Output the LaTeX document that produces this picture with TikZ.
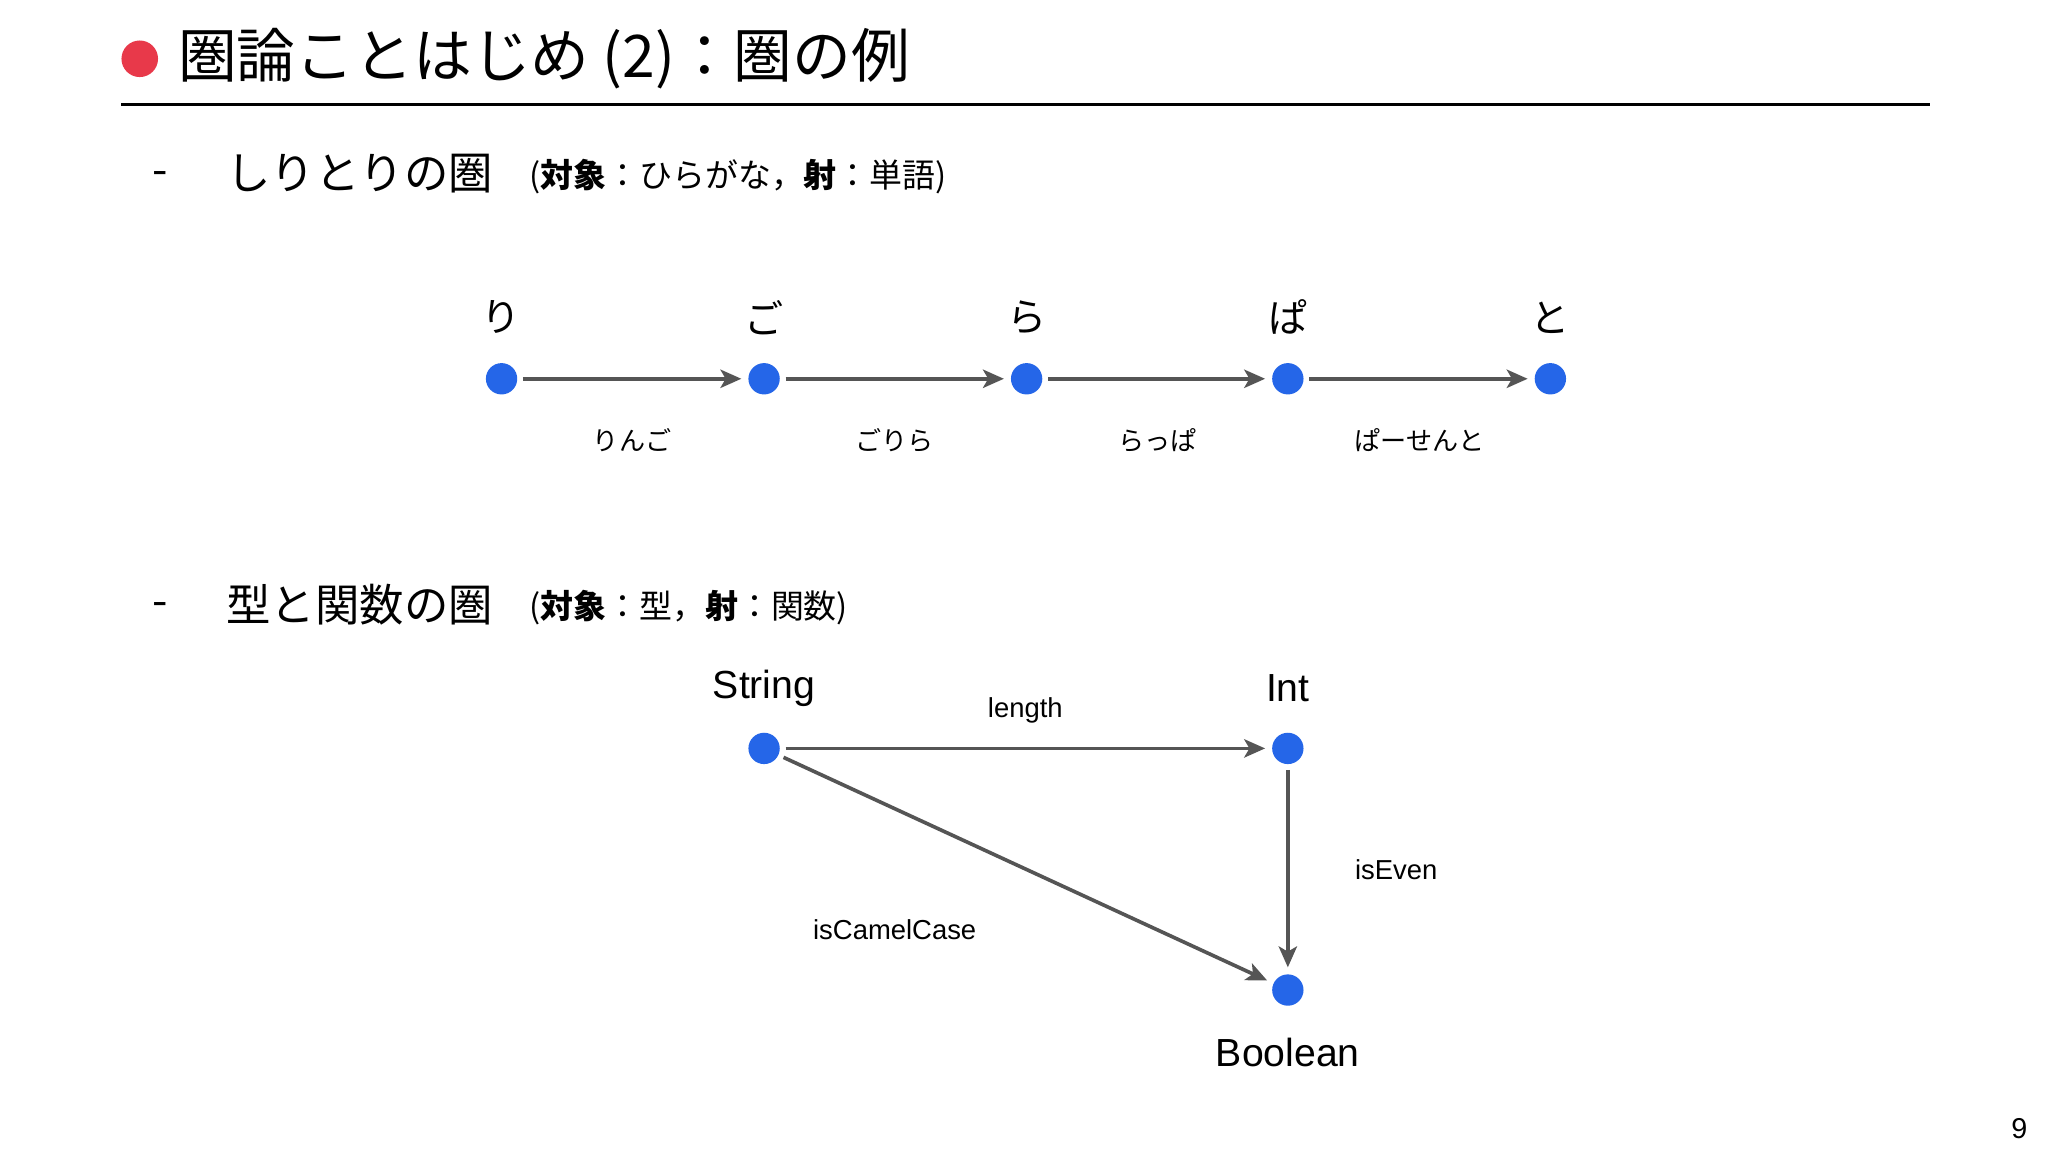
\documentclass[tikz,border=0pt]{standalone}
\usepackage{fontspec}
\setmainfont{Liberation Sans}
\newfontfamily\jp{Noto Sans CJK JP}
\usetikzlibrary{arrows.meta}
\definecolor{dotblue}{HTML}{2566E8}
\definecolor{tred}{HTML}{E8394A}
\definecolor{agray}{HTML}{555555}
\tikzset{
  obj/.style={circle,fill=dotblue,minimum size=12pt,inner sep=0pt},
  arr/.style={draw=agray,line width=1.4pt,-{Stealth[length=8pt,width=7pt,inset=2pt]},shorten <=2pt,shorten >=2.5pt},
  olab/.style={font=\jp\fontsize{15}{18}\selectfont},
  alab/.style={font=\jp\fontsize{10}{12}\selectfont},
  tlab/.style={font=\fontsize{15}{18}\selectfont},
  flab/.style={font=\fontsize{10.5}{12}\selectfont},
  head/.style={anchor=west,font=\jp\fontsize{17}{20}\selectfont,inner sep=0pt},
  sub/.style={anchor=west,font=\jp\fontsize{12.6}{14}\selectfont,inner sep=0pt},
}
\begin{document}
\begin{tikzpicture}[x=0.5pt,y=-0.5pt]
\useasboundingbox (0,0) rectangle (1568,882);
\fill[white] (0,0) rectangle (1568,882);
% title
\fill[tred] (107,45) circle (14);
\node[anchor=west,inner sep=0pt,font=\jp\fontsize{22.5}{26}\selectfont] (title) at (136,45) {圏論ことはじめ (2)：圏の例};
\draw[line width=0.8pt] (93,80) -- (1478,80);
% section 1
\node[head] (d1) at (116,137) {-};
\node[head] (h1) at (173,133) {しりとりの圏};
\node[sub] (s1) at (405,135) {(\textbf{対象}：ひらがな，\textbf{射}：単語)};
\foreach \n/\x/\t in {a/384/り,b/585/ご,c/786/ら,d/986/ぱ,e/1187/と}{
  \node[obj] (\n) at (\x,290) {};
  \node[olab] (\n l) at (\x,243) {\t};
}
\draw[arr] (a) -- (b);
\draw[arr] (b) -- (c);
\draw[arr] (c) -- (d);
\draw[arr] (d) -- (e);
\node[alab] (w1) at (484,337) {りんご};
\node[alab] (w2) at (685,337) {ごりら};
\node[alab] (w3) at (886,337) {らっぱ};
\node[alab] (w4) at (1087,337) {ぱーせんと};
% section 2
\node[head] (d2) at (116,467) {-};
\node[head] (h2) at (173,463) {型と関数の圏};
\node[sub] (s2) at (405,465) {(\textbf{対象}：型，\textbf{射}：関数)};
\node[obj] (str) at (585,573) {};
\node[obj] (int) at (986,573) {};
\node[obj] (bool) at (986,758) {};
\node[tlab] (strl) at (585,527) {String};
\node[tlab] (intl) at (986,527) {Int};
\node[tlab] (booll) at (986,806) {Boolean};
\draw[arr] (str) -- (int);
\draw[arr] (int) -- (bool);
\draw[arr] (str) -- (bool);
\node[flab] (f1) at (785,544) {length};
\node[flab] (f2) at (1069,666) {isEven};
\node[flab] (f3) at (685,712) {isCamelCase};
\node[font=\fontsize{11}{12}\selectfont] (pg) at (1546,864) {9};
\end{tikzpicture}
\end{document}
